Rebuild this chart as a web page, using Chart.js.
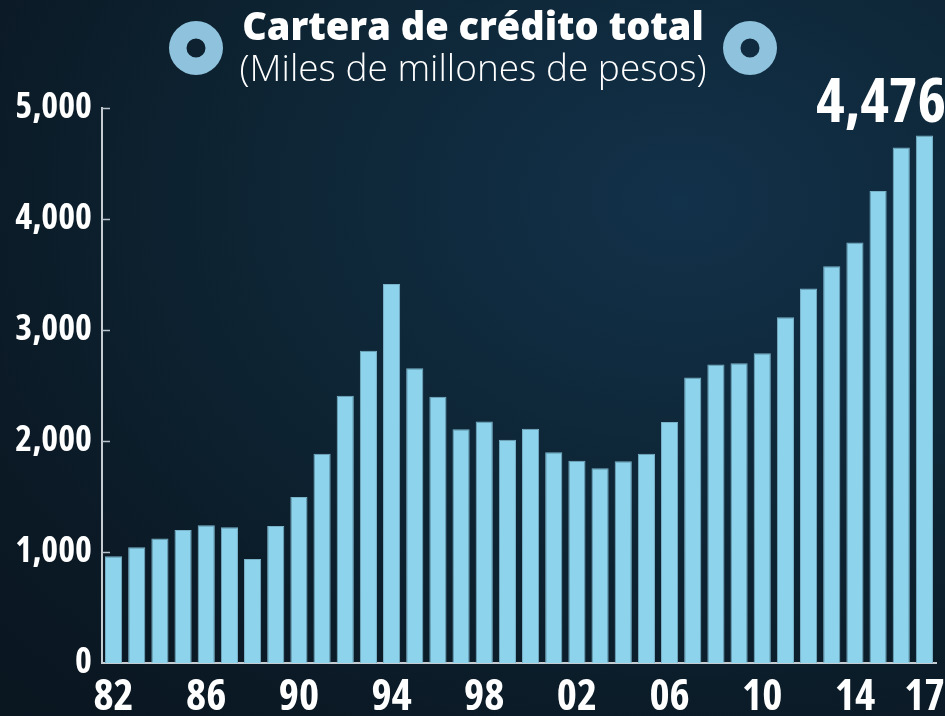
<!DOCTYPE html>
<html>
<head>
<meta charset="utf-8">
<script src="https://cdn.jsdelivr.net/npm/chart.js@4.4.0/dist/chart.umd.min.js"></script>
<style>
  html, body { margin: 0; padding: 0; }
  body {
    width: 945px; height: 716px; overflow: hidden;
    background: radial-gradient(ellipse at 72% 28%, #12314a 0%, #0e2636 40%, #0b1a26 75%, #0a1620 100%);
  }
  #wrap { position: relative; width: 945px; height: 716px; }
</style>
</head>
<body>
<div id="wrap"><canvas id="credito"></canvas></div>
<script>
// Cartera de crédito total, miles de millones de pesos (1982-2017)
var years = ["82","83","84","85","86","87","88","89","90","91","92","93","94","95","96","97","98","99",
             "00","01","02","03","04","05","06","07","08","09","10","11","12","13","14","15","16","17"];
var cartera = [960, 1041, 1120, 1198, 1240, 1222, 937, 1234, 1495, 1883, 2405, 2811, 3412, 2654, 2396, 2105, 2174, 2009,
               2108, 1897, 1820, 1753, 1816, 1883, 2170, 2569, 2687, 2698, 2788, 3112, 3371, 3572, 3784, 4249, 4641, 4749];
var yTicks = [0, 1000, 2000, 3000, 4000, 5000];
var lastLabel = "4,476";

var cond = "'Open Sans', sans-serif";

// rings beside the title, short inner tick marks, value over the last bar
var extras = {
  id: "extras",
  afterDraw: function (chart) {
    var c = chart.ctx;
    var y = chart.scales.y;
    var area = chart.chartArea;
    c.save();
    c.strokeStyle = "#b9c3cb";
    c.lineWidth = 1.5;
    yTicks.forEach(function (v) {
      if (v === 0) return;
      var py = Math.round(y.getPixelForValue(v)) + 0.5;
      c.beginPath();
      c.moveTo(area.left, py);
      c.lineTo(area.left + 8, py);
      c.stroke();
    });
    c.fillStyle = "#8fc2dc";
    [196, 750].forEach(function (cx) {
      c.beginPath();
      c.arc(cx, 48, 27, 0, Math.PI * 2);
      c.arc(cx, 48, 9.5, 0, Math.PI * 2, true);
      c.fill();
    });
    var meta = chart.getDatasetMeta(0);
    var bar = meta.data[meta.data.length - 1];
    c.fillStyle = "#ffffff";
    c.font = "bold condensed 61px " + cond;
    c.textAlign = "right";
    c.textBaseline = "alphabetic";
    c.fillText(lastLabel, chart.width + 1, bar.y - 13);
    c.restore();
  }
};

var ctx = document.getElementById("credito").getContext("2d");
var chart = new Chart(ctx, {
  type: "bar",
  data: {
    labels: years,
    datasets: [
      {
        label: "Cartera de crédito total",
        data: cartera,
        backgroundColor: "#8dd3ec",
        borderColor: "#79b3c9",
        borderWidth: 1,
        barPercentage: 0.74,
        categoryPercentage: 1.0,
      },
    ],
  },
  options: {
    responsive: true,
    maintainAspectRatio: false,
    animation: false,
    layout: { padding: { left: 10, right: 9, top: 0, bottom: 0 } },
    plugins: {
      legend: { display: false },
      tooltip: { enabled: false },
      title: {
        display: true,
        text: "Cartera de crédito total",
        color: "#ffffff",
        font: { family: "'Open Sans', sans-serif", size: 38, weight: "800", lineHeight: 1.1 },
        padding: { top: 8, bottom: 0 },
      },
      subtitle: {
        display: true,
        text: "(Miles de millones de pesos)",
        color: "#ffffff",
        font: { family: "'Open Sans', sans-serif", size: 37, weight: "300", lineHeight: 1.1 },
        padding: { top: 0, bottom: 17 },
      },
    },
    scales: {
      x: {
        afterFit: function (scale) {
          scale.paddingRight = 0;
          scale.paddingLeft = 0;
          scale.height = 53;
        },
        grid: { display: false, drawTicks: false },
        border: { display: true, color: "#c5ccd2", width: 2 },
        ticks: {
          color: "#ffffff",
          font: { family: cond, size: 43, weight: "bold condensed", lineHeight: 1.0 },
          padding: 13,
          autoSkip: false,
          maxRotation: 0,
          callback: function (val, i) {
            return (i % 4 === 0 || i === years.length - 1) ? years[i] : "";
          },
        },
      },
      y: {
        min: 0,
        max: 5000,
        afterFit: function (scale) { scale.width = 92; },
        grid: { display: false, drawTicks: false },
        border: { display: true, color: "#c5ccd2", width: 2 },
        ticks: {
          stepSize: 1000,
          color: "#ffffff",
          font: { family: cond, size: 36, weight: "bold condensed" },
          padding: 10,
        },
      },
    },
  },
  plugins: [extras],
});
</script>
</body>
</html>
